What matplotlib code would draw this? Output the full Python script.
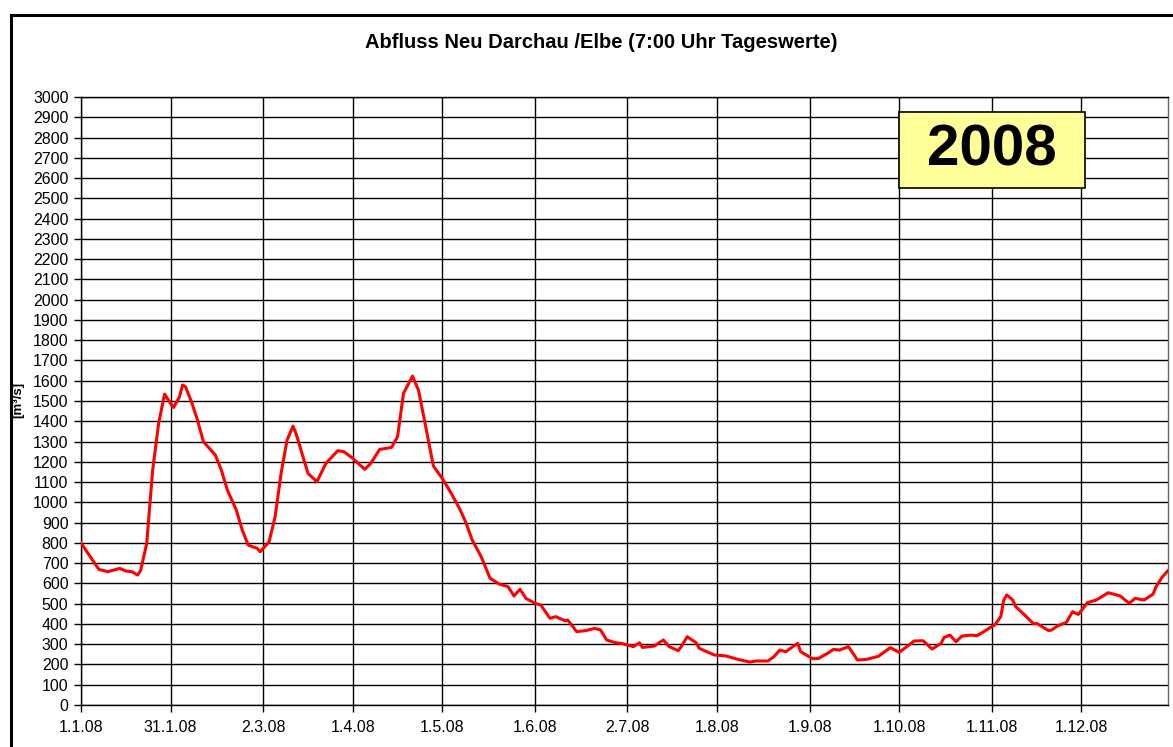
"""
Abfluss Neu Darchau / Elbe 2008 - daily discharge at 7:00.
"""

import pandas as pd
import matplotlib.pyplot as plt
from matplotlib.patches import Rectangle

plt.rcParams['font.family'] = ['Liberation Sans', 'DejaVu Sans']

# Days since 1.1.08 and discharge in m³/s
days = [0, 2, 5, 6, 9, 13, 15, 17, 19, 20, 22, 23, 24, 26, 28, 30, 31, 33, 34, 35,
        37, 39, 41, 45, 47, 49, 52, 54, 56, 59, 60, 63, 65, 67, 69, 71, 72, 74, 76, 79,
        82, 86, 88, 91, 95, 97, 100, 104, 106, 108, 111, 113, 115, 118, 121, 124, 127,
        129, 131, 134, 137, 140, 143, 145, 147, 149, 152, 154, 157, 159, 162, 163, 166,
        169, 172, 174, 176, 179, 181, 185, 187, 188, 192, 195, 197, 200, 201, 203, 206,
        207, 212, 216, 220, 224, 226, 230, 232, 234, 236, 238, 240, 241, 245, 247, 250,
        252, 254, 257, 260, 263, 267, 271, 274, 277, 279, 282, 285, 288, 289, 291, 293,
        295, 298, 300, 302, 304, 306, 308, 309, 310, 312, 313, 316, 319, 320, 324, 325,
        327, 330, 332, 334, 337, 340, 344, 348, 351, 353, 356, 359, 360, 362, 364]
flow = [800, 756, 690, 669, 658, 674, 661, 658, 641, 666, 797, 978, 1159, 1390, 1534,
        1488, 1468, 1521, 1579, 1570, 1496, 1406, 1299, 1233, 1159, 1061, 962, 863, 789,
        773, 756, 806, 929, 1143, 1307, 1376, 1340, 1242, 1143, 1102, 1192, 1255, 1250,
        1217, 1163, 1192, 1261, 1271, 1324, 1538, 1623, 1554, 1406, 1179, 1118, 1044,
        962, 896, 814, 732, 625, 597, 584, 538, 571, 526, 502, 493, 428, 436, 416, 419,
        362, 367, 378, 370, 321, 307, 304, 288, 307, 284, 291, 321, 288, 268, 288, 337,
        307, 280, 247, 242, 225, 212, 217, 217, 238, 271, 263, 284, 304, 263, 228, 230,
        255, 275, 271, 288, 222, 225, 240, 283, 260, 293, 316, 317, 276, 304, 333, 345,
        312, 340, 345, 342, 359, 378, 395, 436, 518, 543, 518, 485, 444, 400, 403, 367,
        370, 390, 408, 460, 447, 505, 518, 554, 538, 502, 526, 518, 547, 584, 630, 663]

tick_dates = ['2008-01-01', '2008-01-31', '2008-03-02', '2008-04-01', '2008-05-01',
              '2008-06-01', '2008-07-02', '2008-08-01', '2008-09-01', '2008-10-01',
              '2008-11-01', '2008-12-01']
tick_labels = ['1.1.08', '31.1.08', '2.3.08', '1.4.08', '1.5.08', '1.6.08',
               '2.7.08', '1.8.08', '1.9.08', '1.10.08', '1.11.08', '1.12.08']

start = pd.Timestamp('2008-01-01')
tick_pos = [(pd.Timestamp(d) - start).days for d in tick_dates]

W, H = 1173, 747
fig = plt.figure(figsize=(W / 100, H / 100), dpi=100)
fig.patch.set_facecolor('white')

# outer chart frame (runs off the right and bottom edge)
fig.patches.append(Rectangle((11 / W, -0.2), 1.2, (H - 15) / H + 0.2,
                             transform=fig.transFigure, fill=False,
                             edgecolor='black', linewidth=2.2))

ax = fig.add_axes([81 / W, 42 / H, (1168 - 81) / W, (705 - 97) / H])

ax.plot(days, flow, color='#ff0000', linewidth=2.2, zorder=3,
        solid_joinstyle='round')

ax.set_xlim(0, 364)
ax.set_ylim(0, 3000)
ax.set_yticks(range(0, 3001, 100))
ax.set_xticks(tick_pos)
ax.set_xticklabels(tick_labels)

ax.grid(True, color='black', linewidth=1.0)
ax.set_axisbelow(True)
for spine in ax.spines.values():
    spine.set_color('black')
    spine.set_linewidth(1.0)
ax.spines['right'].set_color('#666666')

ax.tick_params(axis='both', direction='out', length=5, width=1, labelsize=11.5,
               colors='black')
ax.tick_params(axis='y', pad=4)
ax.tick_params(axis='x', pad=6)

fig.text(601.5 / W, 1 - 42 / H, 'Abfluss Neu Darchau /Elbe (7:00 Uhr Tageswerte)',
         ha='center', va='center', fontsize=14.5, fontweight='bold')

fig.text(18 / W, 1 - 400 / H, '[m³/s]', rotation=90, ha='center', va='center',
         fontsize=9.5, fontweight='bold')

# year label box
fig.patches.append(Rectangle((899 / W, (H - 188) / H), 186 / W, 76 / H,
                             transform=fig.transFigure, facecolor='#ffff99',
                             edgecolor='black', linewidth=1.2, zorder=5))
fig.text(992 / W, 1 - 151 / H, '2008', ha='center', va='center',
         fontsize=42, fontweight='bold', zorder=6)

plt.savefig('out.png', dpi=100)
